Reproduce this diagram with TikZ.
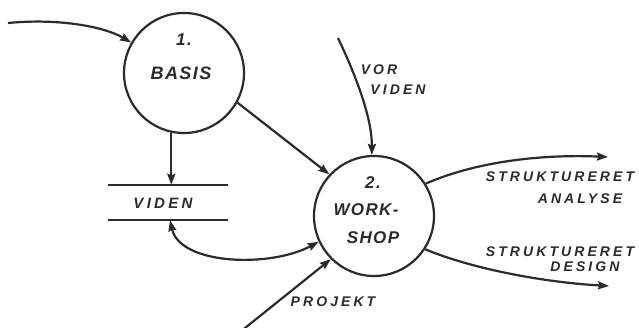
\documentclass[tikz,border=0pt]{standalone}
\usepackage{fontspec}
\setmainfont{Liberation Sans}
\newfontfamily\handA[LetterSpace=22]{Liberation Sans}
\newfontfamily\handB[LetterSpace=8]{Liberation Sans}
\usetikzlibrary{arrows.meta}
\definecolor{ink}{HTML}{2B2B2B}
\begin{document}
\begin{tikzpicture}[x=1pt,y=-1pt,
  inkline/.style={draw=ink, line width=2.2pt},
  tip/.tip={Stealth[length=11pt,width=8pt,inset=1.5pt]},
  flow/.style={inkline, -tip},
  dflow/.style={inkline, tip-tip},
  proc/.style={circle, draw=ink, line width=2.2pt, minimum size=120pt, inner sep=0pt},
  lbl/.style={text=ink, inner sep=0pt, font=\handA\bfseries\itshape\fontsize{14}{16}\selectfont},
  ptxt/.style={text=ink, inner sep=0pt, font=\handB\bfseries\itshape\fontsize{17}{20}\selectfont},
]
\useasboundingbox[fill=white] (0,0) rectangle (639,328);

% processes
\node[proc] (b1) at (184,73) {};
\node[proc] (b2) at (374,216) {};
\node[ptxt] (n1) at (184,40) {1.};
\node[ptxt, font=\handB\bfseries\itshape\fontsize{18}{20}\selectfont] (t1) at (181,73) {BASIS};
\node[ptxt] (n2) at (373,183) {2.};
\node[ptxt] (t2a) at (366,210) {WORK-};
\node[ptxt] (t2b) at (373,238) {SHOP};

% data store
\node[minimum width=120pt, minimum height=35pt, inner sep=0pt] (store) at (168,202.5) {};
\draw[inkline] (store.north west) -- (store.north east);
\draw[inkline] (store.south west) -- (store.south east);
\node[text=ink, inner sep=0pt, font=\handA\bfseries\itshape\fontsize{15}{18}\selectfont] (st) at (163,203) {VIDEN};

% flows
\coordinate (in1) at (8,23);
\draw[flow] (in1) .. controls (60,18) and (105,27) .. (b1.150);

\draw[flow] (b1.258) -- (b1.258 |- store.north);

\draw[flow] (b1.331) -- (b2.137);

\coordinate (vv) at (338,38);
\draw[flow] (vv) .. controls (358,80) and (372,120) .. (b2.92);
\node[lbl] (vor) at (379,70) {VOR};
\node[lbl] (vid) at (398,90) {VIDEN};

\draw[dflow] ([xshift=2pt]store.south) .. controls (180,265) and (270,268) .. (b2.205);

\coordinate (pj) at (240,332);
\draw[flow] (pj) -- (b2.225);
\node[lbl] (pjt) at (333,302) {PROJEKT};

\coordinate (oa) at (608,157);
\draw[flow] (b2.32) .. controls (475,162) and (540,154) .. (oa);
\node[lbl] (sa1) at (560,177) {STRUKTURERET};
\node[lbl] (sa2) at (580,199) {ANALYSE};

\coordinate (od) at (609,286);
\draw[flow] (b2.327) .. controls (470,268) and (540,282) .. (od);
\node[lbl] (sd1) at (560,252) {STRUKTURERET};
\node[lbl] (sd2) at (585,267) {DESIGN};
\end{tikzpicture}
\end{document}
